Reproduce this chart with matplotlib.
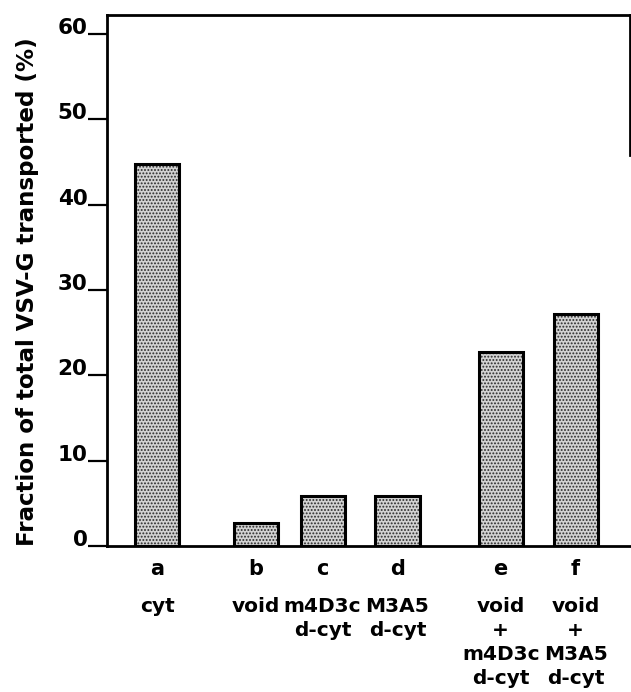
import matplotlib
matplotlib.use('Agg')
import matplotlib.pyplot as plt

# values (%)
letters = ['a', 'b', 'c', 'd', 'e', 'f']
conditions = ['cyt', 'void', 'm4D3c\nd-cyt', 'M3A5\nd-cyt',
              'void\n+\nm4D3c\nd-cyt', 'void\n+\nM3A5\nd-cyt']
transported = [44.8, 2.7, 5.8, 5.8, 22.7, 27.2]

# bar centres: a | b c d | e f
xpos = [0, 1.32, 2.21, 3.21, 4.59, 5.59]

plt.rcParams['font.family'] = 'DejaVu Sans'
plt.rcParams['font.weight'] = 'bold'
plt.rcParams['hatch.linewidth'] = 0.9

W, H = 631, 692
fig = plt.figure(figsize=(W / 100, H / 100), dpi=100)
left, bottom, top, right = 107, 546, 15, 629.5
ax = fig.add_axes([left / W, 1 - bottom / H, (right - left) / W, (bottom - top) / H])

# stippled fill, then black outline on top
ax.bar(xpos, transported, width=0.59, color='#d2d2d2', edgecolor='#2a2a2a',
       hatch='.....', linewidth=0)
ax.bar(xpos, transported, width=0.59, fill=False, edgecolor='black', linewidth=2.2)

ax.set_xlim(-0.67, 6.31)
ax.set_ylim(0, 62.2)

for s in ax.spines.values():
    s.set_linewidth(2)
# the right frame edge only shows near the top in the original scan
ax.spines['right'].set_bounds(45.8, 62.2)

ax.set_xticks([])
ax.set_yticks(range(0, 61, 10))
ax.tick_params(axis='y', direction='out', length=14, width=1.6, pad=0, labelsize=15.5)
for lbl in ax.get_yticklabels():
    lbl.set_verticalalignment('baseline')
    lbl.set_fontweight('bold')

# letter row and condition labels under the bars
for x, let, cond in zip(xpos, letters, conditions):
    ax.annotate(let, xy=(x, 0), xycoords=('data', 'axes fraction'),
                xytext=(0, -16.5), textcoords='offset points',
                ha='center', va='center', fontsize=15, fontweight='bold')
    ax.annotate(cond, xy=(x, 0), xycoords=('data', 'axes fraction'),
                xytext=(0, -37), textcoords='offset points',
                ha='center', va='top', fontsize=14.5, fontweight='bold',
                linespacing=1.33)

fig.text(28 / W, 1 - 292 / H, 'Fraction of total VSV-G transported (%)',
         rotation=90, ha='center', va='center', fontsize=16.6, fontweight='bold')

fig.savefig('out.png', dpi=100)
